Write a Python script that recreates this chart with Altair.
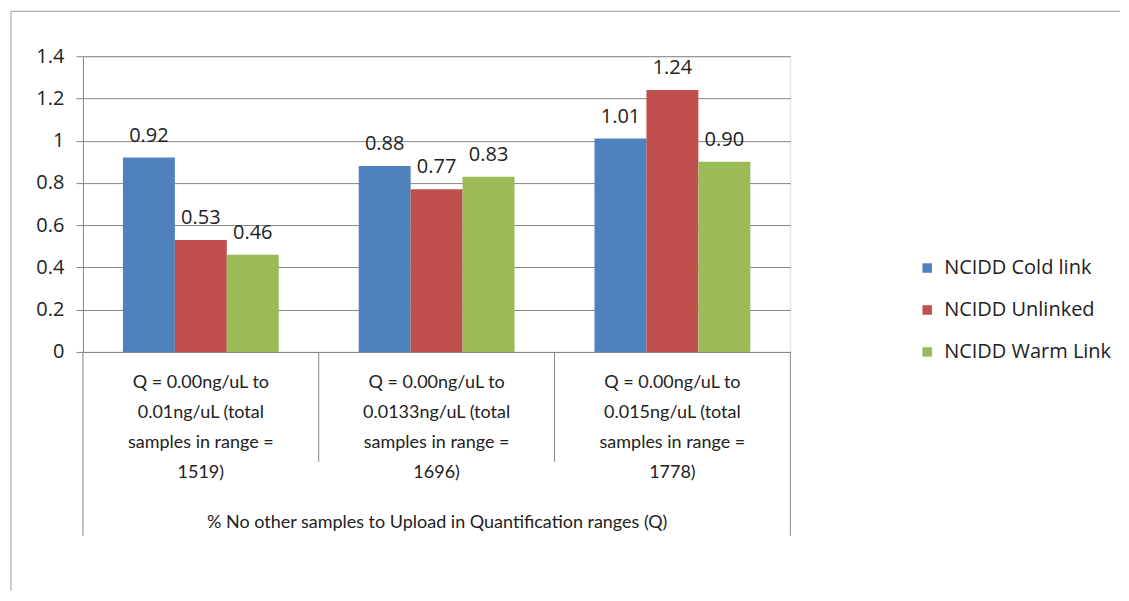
import altair as alt
import pandas as pd

categories = [
    "Q = 0.00ng/uL to|0.01ng/uL (total|samples in range =|1519)",
    "Q = 0.00ng/uL to|0.0133ng/uL (total|samples in range =|1696)",
    "Q = 0.00ng/uL to|0.015ng/uL (total|samples in range =|1778)",
]
series = ["NCIDD Cold link", "NCIDD Unlinked", "NCIDD Warm Link"]
cold_link = [0.92, 0.88, 1.01]
unlinked = [0.53, 0.77, 1.24]
warm_link = [0.46, 0.83, 0.90]
colors = ["#4F81BD", "#C0504D", "#9BBB59"]
y_ticks = [0, 0.2, 0.4, 0.6, 0.8, 1.0, 1.2, 1.4]
x_title = "% No other samples to Upload in Quantification ranges (Q)"

rows = []
for s, vals in zip(series, [cold_link, unlinked, warm_link]):
    for c, v in zip(categories, vals):
        rows.append({"cat": c, "series": s, "value": v})
df = pd.DataFrame(rows)

W, H = 708, 296
GRID = "#868686"
TXT = "#222222"
NUMFONT = "Open Sans"
CATFONT = "Lato"

xscale = alt.Scale(domain=categories, paddingInner=0, paddingOuter=0)
x_enc = alt.X(
    "cat:N",
    sort=categories,
    scale=xscale,
    axis=alt.Axis(
        labelExpr="split(datum.label, '|')",
        labelAngle=0,
        labelFont=CATFONT,
        labelFontSize=18,
        labelLineHeight=30,
        labelColor=TXT,
        labelPadding=22,
        labelLimit=300,
        ticks=False,
        domainColor=GRID,
        title=x_title,
        titleFont=CATFONT,
        titleFontSize=18,
        titleFontWeight="normal",
        titleColor=TXT,
        titlePadding=32,
    ),
)
xoff = alt.XOffset(
    "series:N", sort=series, scale=alt.Scale(paddingInner=0, paddingOuter=0.77)
)
y_enc = alt.Y(
    "value:Q",
    scale=alt.Scale(domain=[0, 1.4], nice=False),
    axis=alt.Axis(
        values=y_ticks,
        format="~g",
        labelFont=NUMFONT,
        labelFontSize=20,
        labelColor=TXT,
        labelPadding=12,
        tickSize=7,
        tickColor=GRID,
        domainColor=GRID,
        gridColor=GRID,
        title=None,
    ),
)

base = alt.Chart(df)
bars = base.mark_bar().encode(
    x=x_enc,
    xOffset=xoff,
    y=y_enc,
    color=alt.Color(
        "series:N",
        sort=series,
        scale=alt.Scale(domain=series, range=colors),
        legend=alt.Legend(
            title=None,
            orient="none",
            legendX=835,
            legendY=202,
            symbolType="square",
            symbolSize=90,
            symbolStrokeWidth=0,
            labelFont=NUMFONT,
            labelFontSize=20,
            labelColor=TXT,
            labelOffset=7,
            labelLimit=300,
            rowPadding=22,
        ),
    ),
)
labels = base.mark_text(
    baseline="alphabetic", dy=-16, font=NUMFONT, fontSize=20, color=TXT
).encode(
    x=alt.X("cat:N", sort=categories),
    xOffset=xoff,
    y="value:Q",
    text=alt.Text("value:Q", format=".2f"),
)

sep_df = pd.DataFrame({"cat": categories[1:]})
seps = alt.Chart(sep_df).mark_rule(color=GRID, strokeWidth=1).encode(
    x=alt.X("cat:N", sort=categories, bandPosition=0),
    y=alt.value(H),
    y2=alt.value(H + 110),
)
one = pd.DataFrame({"a": [0]})
left_line = alt.Chart(one).mark_rule(color=GRID).encode(
    x=alt.value(0), y=alt.value(H), y2=alt.value(H + 184)
)
right_line = alt.Chart(one).mark_rule(color=GRID).encode(
    x=alt.value(W), y=alt.value(H), y2=alt.value(H + 184)
)
frame_left = alt.Chart(one).mark_rule(color="#9a9a9a").encode(
    x=alt.value(-72), y=alt.value(-45), y2=alt.value(535)
)
frame_top = alt.Chart(one).mark_rule(color="#9a9a9a").encode(
    x=alt.value(-72), x2=alt.value(1038), y=alt.value(-45)
)

chart = (
    alt.layer(bars, labels, seps, left_line, right_line, frame_left, frame_top)
    .properties(width=W, height=H, padding={"left": 2, "top": 2, "right": 0, "bottom": 0})
    .configure_view(stroke=None)
    .configure(background="white")
)

chart.save("out.html", embed_options={"renderer": "svg", "actions": False})
